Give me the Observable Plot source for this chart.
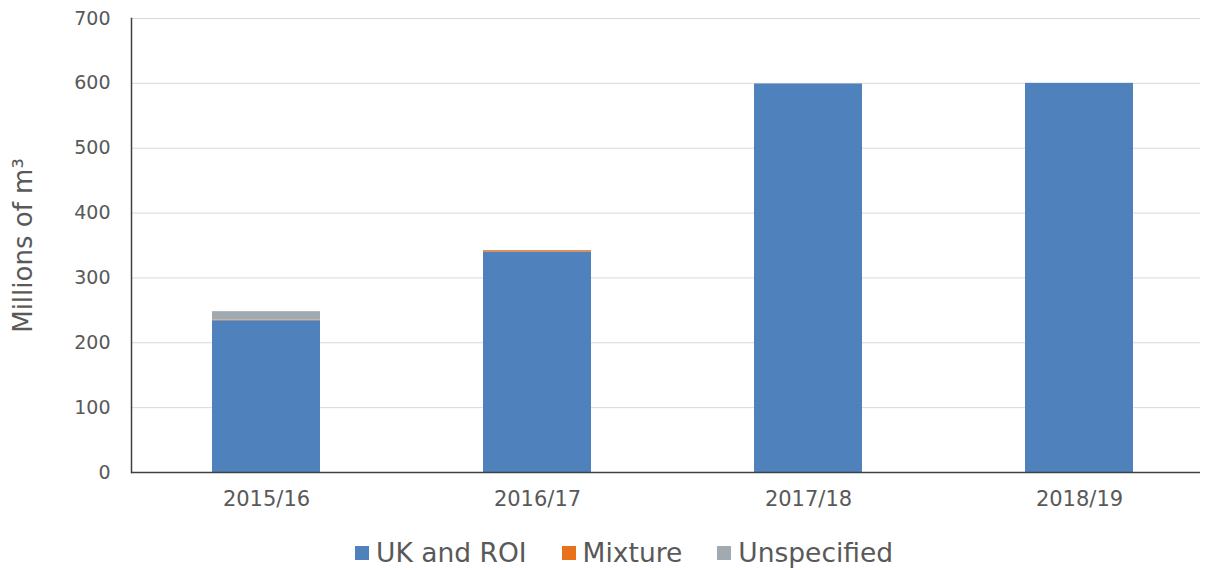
<!DOCTYPE html>
<html>
<head>
<meta charset="utf-8">
<script src="https://cdn.jsdelivr.net/npm/d3@7"></script>
<script src="https://cdn.jsdelivr.net/npm/@observablehq/plot@0.6"></script>
<style>
  html, body { margin: 0; padding: 0; background: #fff; }
  body { width: 1209px; height: 570px; overflow: hidden; font-family: Verdana, "DejaVu Sans", sans-serif; position: relative; }
  #legend { position: absolute; left: 355px; top: 536px; display: flex; align-items: center; font-size: 26.5px; color: #595959; line-height: 34px; }
  .item { display: flex; align-items: center; margin-right: 35px; }
  .sw { width: 14px; height: 14px; margin-right: 7px; display: inline-block; }
</style>
</head>
<body>
<div id="chart"></div>
<div id="legend"></div>
<script>
const years = ["2015/16", "2016/17", "2017/18", "2018/19"];
const series = ["UK and ROI", "Mixture", "Unspecified"];
const ukRoi = [234, 340, 599, 600];
const mixture = [1, 2, 0, 0];
const unspecified = [13, 0, 0, 0];
const colors = ["#4F81BD", "#E8711C", "#A1AAB0"];
const yTicks = [0, 100, 200, 300, 400, 500, 600, 700];

const seriesValues = [ukRoi, mixture, unspecified];
const data = [];
series.forEach((s, i) => years.forEach((y, j) => data.push({year: y, series: s, value: seriesValues[i][j]})));

const chart = Plot.plot({
  width: 1209,
  height: 515,
  marginTop: 18,
  marginBottom: 43,
  marginLeft: 131,
  marginRight: 9,
  style: {fontFamily: 'Verdana, "DejaVu Sans", sans-serif', fontSize: "19px", color: "#595959", background: "#fff", overflow: "hidden"},
  x: {domain: years, range: [131, 1215], paddingInner: 0.6, paddingOuter: 0.3, label: null},
  y: {domain: [0, 700], label: null},
  color: {domain: series, range: colors},
  marks: [
    Plot.gridY(yTicks, {stroke: "#d9d9d9", strokeOpacity: 1}),
    Plot.barY(data, {x: "year", y: "value", fill: "series", order: series}),
    Plot.axisY(yTicks, {tickSize: 0, tickPadding: 21, fill: "#595959", fontSize: 19}),
    Plot.axisX({tickSize: 0, tickPadding: 19, fill: "#595959", fontSize: 21}),
    Plot.frame({anchor: "left", stroke: "#404040", strokeWidth: 1.5}),
    Plot.ruleY([0], {stroke: "#404040", strokeWidth: 1.5}),
    Plot.text(["Millions of m³"], {frameAnchor: "left", textAnchor: "middle", dx: -108, rotate: -90, fontSize: 26, fill: "#595959"})
  ]
});
document.getElementById("chart").appendChild(chart);

const legend = document.getElementById("legend");
series.forEach((s, i) => {
  const it = document.createElement("div");
  it.className = "item";
  it.innerHTML = `<span class="sw" style="background:${colors[i]}"></span><span>${s}</span>`;
  legend.appendChild(it);
});
</script>
</body>
</html>
